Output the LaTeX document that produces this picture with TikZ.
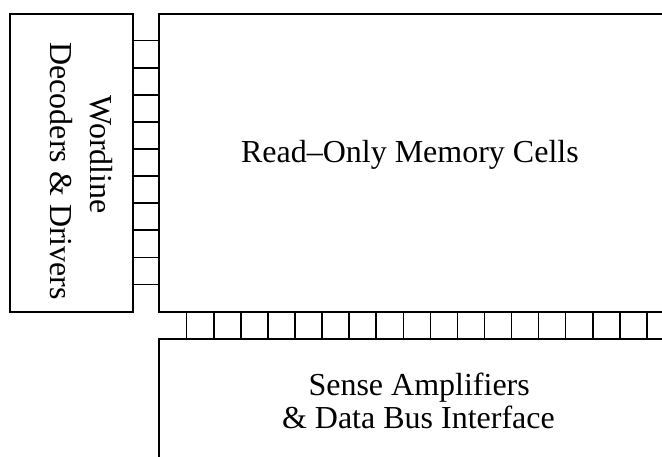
\documentclass[tikz,border=0pt]{standalone}
\usepackage{fontspec}
\setmainfont{Liberation Serif}
\begin{document}
\begin{tikzpicture}[x=1pt,y=-1pt,
  blockline/.style={line width=1.7pt},
  block/.style={blockline,draw,rectangle,inner sep=0pt,outer sep=0pt},
  label/.style={inner sep=0pt,outer sep=0pt,font=\fontsize{32}{38}\selectfont},
  wire/.style={line width=1.5pt}]
\clip (0,0) rectangle (662,457);

% decoder block on the left
\node[block,minimum width=123.3pt,minimum height=298.3pt] (dec) at (71.65,163.15) {};
% memory array, open to the right
\node[block,minimum width=530pt,minimum height=298.3pt] (mem) at (424.3,163.15) {};
% sense amplifier block, open to the right and below
\node[block,minimum width=530pt,minimum height=160pt] (sense) at (424.3,419.3) {};

% wordlines between decoders and array
\foreach \k in {0,...,9}{
  \coordinate (wl\k) at (0,{40.7+27.07*\k});
  \draw[wire] (dec.east |- wl\k) -- (mem.west |- wl\k);
}
% bitlines between array and sense amplifiers
\foreach \k in {0,...,17}{
  \coordinate (bl\k) at ({186.7+27.07*\k},0);
  \draw[wire] (mem.south -| bl\k) -- (sense.north -| bl\k);
}

% labels
\node[label,anchor=base west] (memtxt) at (241,162.3) {Read–Only Memory Cells};
\node[label,anchor=base west] (sensetxt1) at (308.5,395.7) {Sense Amplifiers};
\node[label,anchor=base west] (sensetxt2) at (282,428.3) {\& Data Bus Interface};
\node[label,anchor=base west,rotate=-90] (dectxt1) at (90,95.5) {Wordline};
\node[label,anchor=base west,rotate=-90] (dectxt2) at (50.7,42.3) {Decoders \& Drivers};
\end{tikzpicture}
\end{document}
